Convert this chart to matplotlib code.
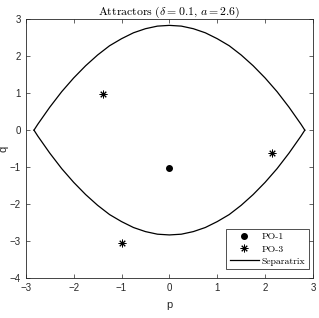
import matplotlib
matplotlib.use("Agg")
import matplotlib.pyplot as plt

plt.rcParams['mathtext.fontset'] = 'cm'
plt.rcParams['font.family'] = ['Liberation Sans', 'DejaVu Sans']

# separatrix (upper and lower branch)
sep_p = [-2.83, -2.75, -2.5, -2.25, -2.0, -1.75, -1.5, -1.25, -1.0, -0.75, -0.5, -0.25, 0.0,
         0.25, 0.5, 0.75, 1.0, 1.25, 1.5, 1.75, 2.0, 2.25, 2.5, 2.75, 2.83]
sep_q_up = [0.0, 0.16, 0.62, 1.04, 1.41, 1.74, 2.03, 2.28, 2.47, 2.63, 2.74, 2.81, 2.83,
            2.81, 2.74, 2.63, 2.47, 2.28, 2.03, 1.74, 1.41, 1.04, 0.62, 0.16, 0.0]
sep_q_lo = [0.0, -0.16, -0.62, -1.04, -1.41, -1.74, -2.03, -2.28, -2.47, -2.63, -2.74, -2.81, -2.83,
            -2.81, -2.74, -2.63, -2.47, -2.28, -2.03, -1.74, -1.41, -1.04, -0.62, -0.16, 0.0]

po1_p = [0.0]
po1_q = [-1.03]
po3_p = [-1.39, -1.00, 2.14]
po3_q = [0.97, -3.06, -0.63]

fig = plt.figure(figsize=(3.19, 3.18), dpi=100)
ax = fig.add_axes([0.081, 0.125, 0.9, 0.815])

ax.plot(po1_p, po1_q, 'o', color='black', markersize=4, label='PO-1', linestyle='none')
ax.plot(po3_p, po3_q, marker=(8, 2, 0), color='black', markersize=5.5, markeredgewidth=0.7,
        label='PO-3', linestyle='none')
ax.plot(sep_p, sep_q_up, color='black', linewidth=0.9, label='Separatrix')
ax.plot(sep_p, sep_q_lo, color='black', linewidth=0.9)

ax.set_xlim(-3, 3)
ax.set_ylim(-4, 3)
ax.set_xticks([-3, -2, -1, 0, 1, 2, 3])
ax.set_yticks([-4, -3, -2, -1, 0, 1, 2, 3])
ax.tick_params(direction='in', top=True, right=True, labelsize=7, colors='#262626',
               length=3, width=0.5)
for s in ax.spines.values():
    s.set_color('#262626')
    s.set_linewidth(0.6)

ax.set_xlabel('p', fontsize=8, color='#262626')
ax.set_ylabel('q', fontsize=8, color='#262626')
ax.xaxis.set_label_coords(0.5, -0.085)
ax.yaxis.set_label_coords(-0.06, 0.5)
ax.set_title(r'$\mathrm{Attractors}\ (\delta = 0.1,\, a = 2.6)$', fontsize=8.5, pad=3)

leg = ax.legend(loc='lower right', bbox_to_anchor=(0.985, 0.035), frameon=True, fancybox=False,
                edgecolor='black', handlelength=3.0, borderaxespad=0.0,
                labelspacing=0.35, borderpad=0.35, handletextpad=0.3,
                prop={'family': 'cmr10', 'size': 7})
leg.get_frame().set_linewidth(0.6)

fig.savefig('out.png', dpi=100)
